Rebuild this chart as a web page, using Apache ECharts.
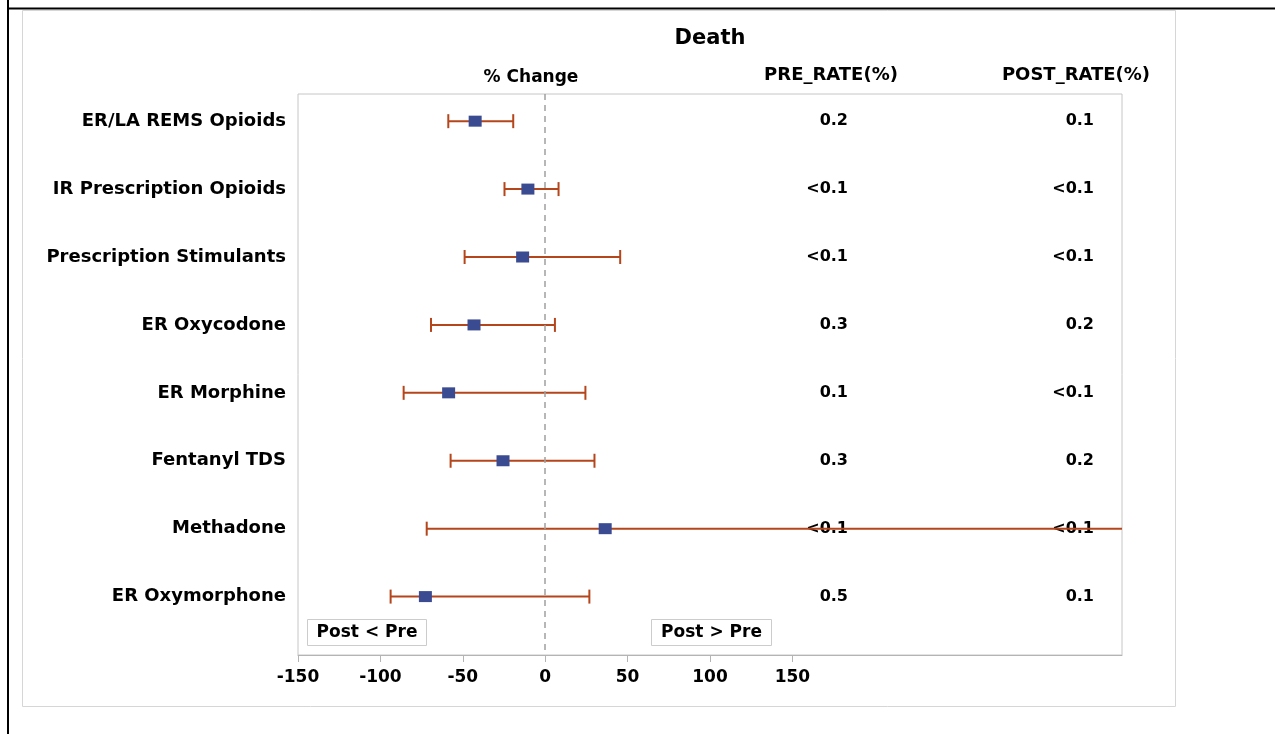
<!DOCTYPE html>
<html>
<head>
<meta charset="utf-8">
<title>Death</title>
<script src="https://cdn.jsdelivr.net/npm/echarts@6/dist/echarts.min.js"></script>
<style>
  html, body { margin: 0; padding: 0; background: #ffffff; }
  #chart { width: 1275px; height: 734px; }
</style>
</head>
<body>
<div id="chart"></div>
<script>
// Outcome: Death — % change (post vs pre) with 95% CI, plus pre/post rates
const categories = [
  'ER/LA REMS Opioids',
  'IR Prescription Opioids',
  'Prescription Stimulants',
  'ER Oxycodone',
  'ER Morphine',
  'Fentanyl TDS',
  'Methadone',
  'ER Oxymorphone'
];
const pctChange = [-42.5, -10.5, -13.7, -43.2, -58.6, -25.6, 36.4, -72.7];
const ciLower   = [-58.8, -24.7, -48.9, -69.3, -85.9, -57.4, -71.9, -93.8];
const ciUpper   = [-19.4,   8.1,  45.5,   5.9,  24.4,  29.9, 400.0,  26.8];
const preRate   = ['0.2', '<0.1', '<0.1', '0.3', '0.1', '0.3', '<0.1', '0.5'];
const postRate  = ['0.1', '<0.1', '<0.1', '0.2', '<0.1', '0.2', '<0.1', '0.1'];
const xTicks    = [-150, -100, -50, 0, 50, 100, 150];

const FONT = 'DejaVu Sans';
const BAR_COLOR = '#b5461c';
const MARK_COLOR = '#3a4b92';

const chart = echarts.init(document.getElementById('chart'), null, { renderer: 'canvas' });

const rowIdx = categories.map((_, i) => i);

const option = {
  backgroundColor: '#ffffff',
  animation: false,
  grid: {
    left: 298, right: 153, top: 94, bottom: 79,
    show: true, borderColor: '#c6c6c6', borderWidth: 1, backgroundColor: 'transparent'
  },
  xAxis: {
    type: 'value',
    min: -150, max: 350, interval: 50,
    axisLine: { show: true, onZero: false, lineStyle: { color: '#b4b4b4', width: 1 } },
    axisTick: { show: true, length: 7, customValues: xTicks, lineStyle: { color: '#b4b4b4' } },
    axisLabel: {
      customValues: xTicks, margin: 14,
      color: '#000', fontFamily: FONT, fontWeight: 'bold', fontSize: 17
    },
    splitLine: { show: false }
  },
  yAxis: {
    type: 'value',
    inverse: true,
    min: -0.4, max: 7.86,
    axisLine: { show: false },
    axisTick: { show: false },
    splitLine: { show: false },
    axisLabel: {
      customValues: rowIdx,
      formatter: v => categories[v] || '',
      margin: 12,
      color: '#000', fontFamily: FONT, fontWeight: 'bold', fontSize: 18
    }
  },
  series: [
    {
      // rate columns, drawn beneath the interval lines
      type: 'custom',
      z: 1,
      coordinateSystem: 'cartesian2d',
      data: rowIdx.map(i => [0, i]),
      renderItem: (params, api) => {
        const i = api.value(1);
        const p = api.coord([0, i]);
        const style = {
          fill: '#000', fontFamily: FONT, fontWeight: 'bold', fontSize: 16,
          align: 'right', verticalAlign: 'middle'
        };
        return {
          type: 'group',
          children: [
            { type: 'text', style: Object.assign({ x: 848, y: p[1], text: preRate[i] }, style) },
            { type: 'text', style: Object.assign({ x: 1094, y: p[1], text: postRate[i] }, style) }
          ]
        };
      },
      markLine: {
        silent: true,
        symbol: 'none',
        label: { show: false },
        lineStyle: { color: '#a0a0a0', type: [6, 5], width: 1.5 },
        data: [{ xAxis: 0 }]
      }
    },
    {
      // confidence interval whiskers
      type: 'custom',
      z: 2,
      coordinateSystem: 'cartesian2d',
      data: rowIdx.map(i => [ciLower[i], i, ciUpper[i]]),
      renderItem: (params, api) => {
        const i = api.value(1);
        const lo = api.coord([api.value(0), i]);
        const hi = api.coord([api.value(2), i]);
        const cs = params.coordSys;
        const right = cs.x + cs.width;
        const x1 = Math.max(lo[0], cs.x);
        const x2 = Math.min(hi[0], right);
        const y = lo[1];
        const ls = { stroke: BAR_COLOR, lineWidth: 2 };
        const children = [
          { type: 'line', shape: { x1: x1, y1: y, x2: x2, y2: y }, style: ls }
        ];
        if (lo[0] >= cs.x) {
          children.push({ type: 'line', shape: { x1: lo[0], y1: y - 7, x2: lo[0], y2: y + 7 }, style: ls });
        }
        if (hi[0] <= right) {
          children.push({ type: 'line', shape: { x1: hi[0], y1: y - 7, x2: hi[0], y2: y + 7 }, style: ls });
        }
        return { type: 'group', children: children };
      }
    },
    {
      type: 'scatter',
      z: 3,
      symbol: 'rect',
      symbolSize: [13, 11],
      itemStyle: { color: MARK_COLOR, borderWidth: 0, opacity: 1 },
      data: rowIdx.map(i => [pctChange[i], i])
    }
  ],
  graphic: [
    // page frame
    { type: 'line', z: 10, shape: { x1: 8, y1: 0, x2: 8, y2: 734 }, style: { stroke: '#000', lineWidth: 2 } },
    { type: 'line', z: 10, shape: { x1: 8, y1: 8.5, x2: 1275, y2: 8.5 }, style: { stroke: '#000', lineWidth: 2 } },
    { type: 'rect', z: 0, shape: { x: 22.5, y: 10.5, width: 1153, height: 696 }, style: { fill: 'none', stroke: '#d6d6d6', lineWidth: 1 } },
    // titles and column headers
    { type: 'text', style: { x: 710, y: 39, text: 'Death', fill: '#000', fontFamily: FONT, fontWeight: 'bold', fontSize: 21, align: 'center', verticalAlign: 'middle' } },
    { type: 'text', style: { x: 531, y: 78, text: '% Change', fill: '#000', fontFamily: FONT, fontWeight: 'bold', fontSize: 17, align: 'center', verticalAlign: 'middle' } },
    { type: 'text', style: { x: 831, y: 75, text: 'PRE_RATE(%)', fill: '#000', fontFamily: FONT, fontWeight: 'bold', fontSize: 18, align: 'center', verticalAlign: 'middle' } },
    { type: 'text', style: { x: 1076, y: 75, text: 'POST_RATE(%)', fill: '#000', fontFamily: FONT, fontWeight: 'bold', fontSize: 18, align: 'center', verticalAlign: 'middle' } },
    // direction boxes
    { type: 'rect', z: 5, shape: { x: 307.5, y: 619.5, width: 119, height: 26 }, style: { fill: '#fff', stroke: '#cccccc', lineWidth: 1 } },
    { type: 'text', z: 6, style: { x: 367, y: 632.5, text: 'Post < Pre', fill: '#000', fontFamily: FONT, fontWeight: 'bold', fontSize: 17, align: 'center', verticalAlign: 'middle' } },
    { type: 'rect', z: 5, shape: { x: 651.5, y: 619.5, width: 120, height: 26 }, style: { fill: '#fff', stroke: '#cccccc', lineWidth: 1 } },
    { type: 'text', z: 6, style: { x: 711.5, y: 632.5, text: 'Post > Pre', fill: '#000', fontFamily: FONT, fontWeight: 'bold', fontSize: 17, align: 'center', verticalAlign: 'middle' } }
  ]
};

chart.setOption(option);
</script>
</body>
</html>
